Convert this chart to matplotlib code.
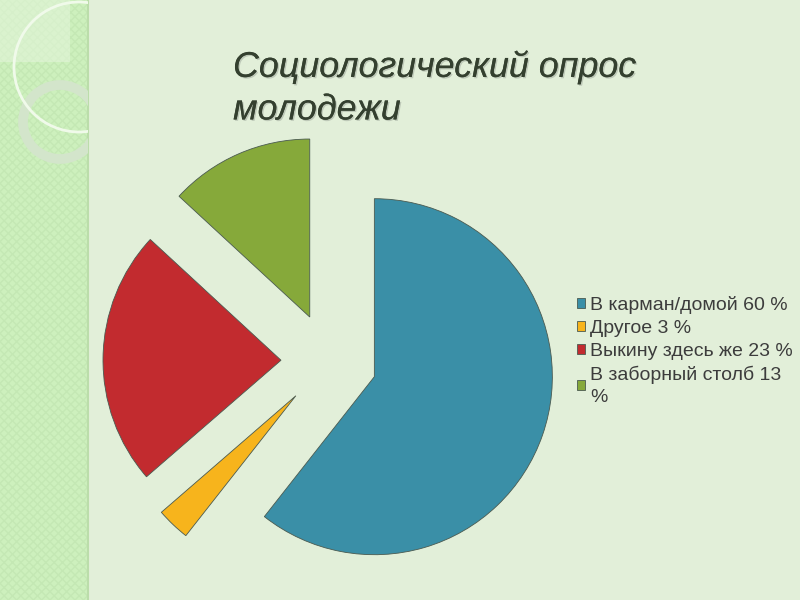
import matplotlib
matplotlib.use("Agg")
import matplotlib.pyplot as plt
import matplotlib.patches as mpatches
import matplotlib.patheffects as pe

# ---- data ----
categories = ["В карман/домой", "Другое", "Выкину здесь же", "В заборный столб"]
values = [60, 3, 23, 13]
colors = ["#3A8FA7", "#F7B41C", "#C22B2F", "#86A93A"]
title_text = "Социологический опрос\nмолодежи"

# ---- style / layout ----
W, H = 800, 600
pie_center = (329, 600 - 361)
pie_radius = 178
explode_px = [48, 48, 48, 48]

plt.rcParams['font.family'] = ['Liberation Sans', 'DejaVu Sans']

fig = plt.figure(figsize=(8, 6), dpi=100)
fig.patch.set_facecolor("#E2EFD9")
ax = fig.add_axes([0, 0, 1, 1])

# left decorative strip
strip = mpatches.Rectangle((0, 0), 88, H, facecolor="#CDF0BD", edgecolor="none", zorder=0)
ax.add_patch(strip)
hatch = mpatches.Rectangle((0, 0), 88, H, facecolor="none", edgecolor="#C4E8B4",
                           hatch="xxxx", linewidth=0, zorder=0.1)
ax.add_patch(hatch)
ax.plot([88, 88], [0, H], color="#BBDDAA", lw=1.5, zorder=0.2)
ax.add_patch(mpatches.Rectangle((0, H - 62), 70, 62, facecolor="#E3F5DA", alpha=0.6,
                                edgecolor="none", zorder=0.3))
clip = mpatches.Rectangle((0, 0), 88, H, transform=ax.transData)
ring = mpatches.Circle((60, H - 122), 37, facecolor="none", edgecolor="#D3E5CB",
                       lw=7, zorder=0.4)
ax.add_patch(ring)
ring.set_clip_path(clip)
big = mpatches.Circle((79, H - 67), 65, facecolor="none", edgecolor="#F0FAEA",
                      lw=2, zorder=0.4)
ax.add_patch(big)
big.set_clip_path(clip)

wedges, _ = ax.pie(values, colors=colors, startangle=90, counterclock=False,
                   center=pie_center, radius=pie_radius, explode=explode_px,
                   wedgeprops=dict(edgecolor="#4a5a50", linewidth=0.6), frame=False)
for w in wedges:
    w.set_zorder(2)

ax.set_xlim(0, W)
ax.set_ylim(0, H)
ax.set_aspect("equal")
ax.axis("off")

# title
ax.text(233, H - 49, title_text, fontsize=25.8, style="italic", color="#34402F",
        ha="left", va="top", linespacing=1.28, zorder=3,
        path_effects=[pe.withSimplePatchShadow(offset=(1, -1), shadow_rgbFace="#a6b0a2", alpha=0.6),
                      pe.Normal()])

# legend
labels = []
for c, v in zip(categories, values):
    lab = f"{c} {v} %"
    if len(lab) > 20:
        lab = f"{c} {v}\n%"
    labels.append(lab)
leg = ax.legend(wedges, labels, loc="upper left", bbox_to_anchor=(577 / W, 1 - 296 / H),
                bbox_transform=fig.transFigure, frameon=False, fontsize=14,
                handlelength=0.42, handleheight=0.42, handletextpad=0.25,
                labelspacing=0.3, borderpad=0, borderaxespad=0)
for t in leg.get_texts():
    t.set_color("#3C3C3C")
    t.set_linespacing(1.38)

fig.savefig("out.png", dpi=100, facecolor=fig.get_facecolor())
